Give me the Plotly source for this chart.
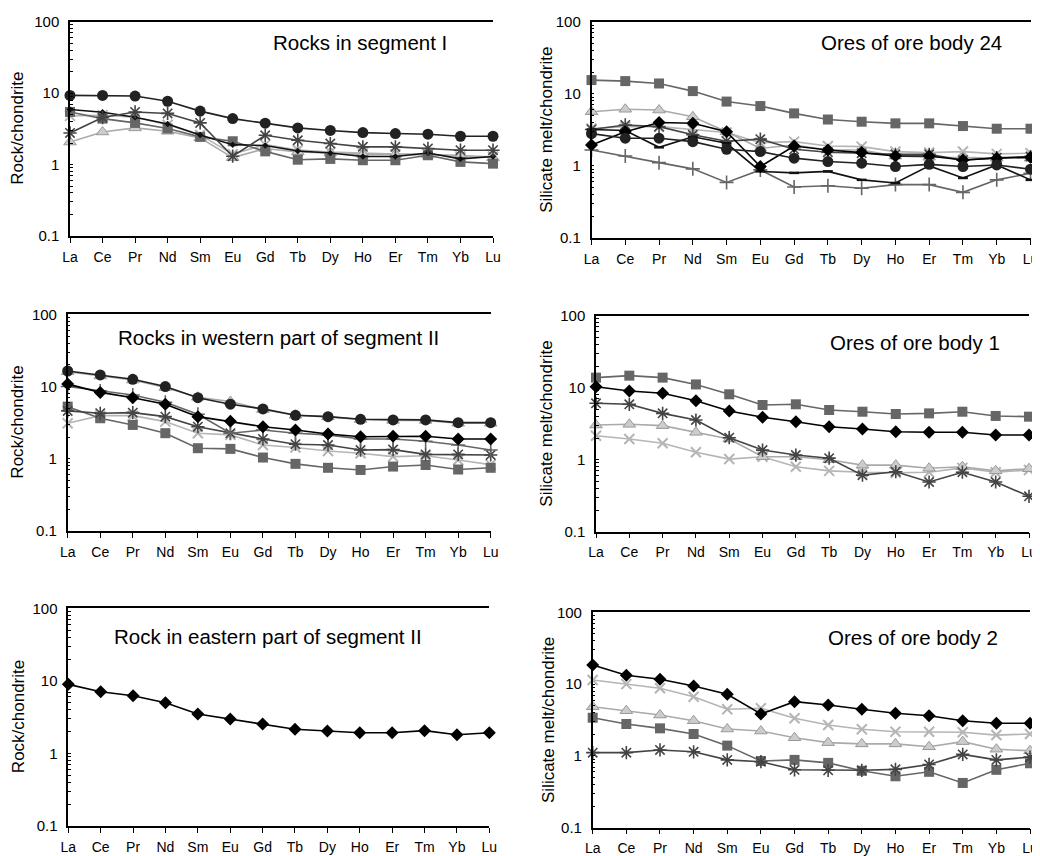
import plotly.graph_objects as go

# The page body has an 8 px margin; figure pixel = page pixel - OFF
OFF = 8
W, H = 1040 - OFF, 856 - OFF

ELEMENTS = ["La", "Ce", "Pr", "Nd", "Sm", "Eu", "Gd", "Tb", "Dy", "Ho", "Er", "Tm", "Yb", "Lu"]
# log-axis ticks: labelled decades plus unlabelled 2..9 subdivisions
Y_TICKS = [m * d for d in (0.1, 1, 10) for m in range(1, 10)] + [100]
Y_TICK_TEXT = [{0.1: "0.1", 1: "1", 10: "10", 100: "100"}.get(round(v, 6), "") for v in Y_TICKS]

# Panel 1: Rocks in segment I
s1_xcross = [4.8, 4.9, 4.6, 3.6, 2.6, 1.4, 1.9, 1.6, 1.5, 1.45, 1.4, 1.4, 1.3, 1.3]
s1_triangle = [2.07, 2.86, 3.26, 2.93, 2.36, 1.25, 1.68, 1.5, 1.46, 1.39, 1.39, 1.38, 1.35, 1.25]
s1_square = [5.45, 4.4, 3.83, 3.2, 2.44, 2.12, 1.53, 1.17, 1.2, 1.15, 1.15, 1.35, 1.09, 1.03]
s1_diamond = [5.9, 5.4, 4.6, 3.7, 2.6, 1.9, 1.85, 1.55, 1.45, 1.3, 1.3, 1.45, 1.2, 1.3]
s1_asterisk = [2.77, 4.55, 5.45, 5.2, 3.83, 1.31, 2.57, 2.19, 1.97, 1.77, 1.77, 1.68, 1.59, 1.59]
s1_circle = [9.3, 9.3, 9.1, 7.7, 5.6, 4.4, 3.8, 3.26, 3.0, 2.8, 2.72, 2.66, 2.49, 2.49]

# Panel 2: Ores of ore body 24
o24_plus = [1.66, 1.37, 1.11, 0.91, 0.59, 0.88, 0.51, 0.53, 0.49, 0.55, 0.55, 0.43, 0.64, 0.79]
o24_xcross = [3.3, 3.5, 3.5, 3.2, 2.9, 2.1, 2.17, 1.89, 1.85, 1.58, 1.53, 1.58, 1.47, 1.5]
o24_triangle = [5.65, 6.1, 5.95, 4.8, 2.98, 1.75, 1.95, 1.66, 1.66, 1.37, 1.32, 1.3, 1.28, 1.28]
o24_square = [15.5, 15.0, 13.9, 10.9, 7.8, 6.76, 5.35, 4.4, 4.1, 3.89, 3.89, 3.57, 3.28, 3.28]
o24_asterisk = [3.2, 3.7, 3.5, 2.7, 2.2, 2.35, 1.7, 1.55, 1.5, 1.45, 1.45, 1.2, 1.3, 1.35]
o24_dash = [3.2, 3.1, 1.81, 2.54, 2.06, 0.84, 0.8, 0.84, 0.64, 0.58, 1.0, 0.68, 1.03, 0.64]
o24_diamond = [1.95, 2.98, 4.0, 3.9, 2.98, 0.98, 1.89, 1.66, 1.53, 1.37, 1.37, 1.21, 1.28, 1.32]
o24_circle = [2.8, 2.42, 2.42, 2.17, 1.7, 1.58, 1.28, 1.15, 1.09, 0.98, 1.05, 0.98, 1.03, 0.9]

# Panel 3: Rocks in western part of segment II
w_xcross = [3.1, 3.95, 3.95, 3.27, 2.26, 2.14, 1.55, 1.43, 1.28, 1.19, 1.07, 1.1, 0.96, 0.83]
w_triangle = [16.0, 14.0, 12.3, 9.7, 7.1, 6.2, 4.8, 4.0, 3.8, 3.5, 3.4, 3.4, 3.1, 3.1]
w_square = [5.27, 3.64, 2.94, 2.26, 1.4, 1.37, 1.04, 0.85, 0.75, 0.7, 0.78, 0.82, 0.71, 0.75]
w_asterisk = [4.6, 4.27, 4.35, 3.83, 2.78, 2.26, 1.88, 1.59, 1.55, 1.32, 1.34, 1.15, 1.15, 1.13]
w_plus = [10.0, 8.7, 7.65, 6.06, 4.14, 2.26, 2.5, 2.26, 2.14, 1.88, 1.88, 1.75, 1.55, 1.32]
w_diamond = [10.8, 8.3, 7.0, 5.7, 3.83, 3.3, 2.78, 2.5, 2.2, 2.02, 2.05, 2.05, 1.88, 1.88]
w_circle = [16.4, 14.5, 12.6, 10.0, 7.0, 5.7, 4.9, 4.0, 3.83, 3.52, 3.45, 3.45, 3.16, 3.16]

# Panel 4: Ores of ore body 1
o1_xcross = [2.15, 1.94, 1.69, 1.27, 1.02, 1.1, 0.8, 0.7, 0.67, 0.66, 0.67, 0.77, 0.67, 0.72]
o1_triangle = [3.03, 3.1, 2.97, 2.4, 1.94, 1.1, 1.1, 1.0, 0.84, 0.84, 0.76, 0.8, 0.7, 0.75]
o1_asterisk = [6.07, 5.88, 4.4, 3.56, 2.02, 1.36, 1.16, 1.05, 0.61, 0.68, 0.49, 0.67, 0.49, 0.31]
o1_square = [13.8, 14.7, 13.8, 11.1, 8.1, 5.75, 5.88, 4.9, 4.64, 4.31, 4.4, 4.64, 4.05, 3.96]
o1_diamond = [10.3, 9.0, 8.36, 6.6, 4.74, 3.88, 3.37, 2.87, 2.67, 2.45, 2.4, 2.4, 2.2, 2.2]

# Panel 5: Rock in eastern part of segment II
e_diamond = [8.95, 7.08, 6.23, 4.99, 3.49, 2.98, 2.54, 2.15, 2.04, 1.93, 1.93, 2.06, 1.81, 1.93]

# Panel 6: Ores of ore body 2
o2_xcross = [11.4, 10.0, 8.74, 6.68, 4.46, 4.6, 3.34, 2.69, 2.35, 2.17, 2.17, 2.13, 1.95, 2.02]
o2_triangle = [4.84, 4.26, 3.71, 3.09, 2.37, 2.22, 1.79, 1.53, 1.47, 1.47, 1.34, 1.58, 1.24, 1.18]
o2_square = [3.4, 2.78, 2.42, 2.02, 1.39, 0.85, 0.88, 0.8, 0.62, 0.52, 0.6, 0.42, 0.64, 0.79]
o2_asterisk = [1.11, 1.11, 1.21, 1.14, 0.88, 0.83, 0.64, 0.63, 0.63, 0.65, 0.76, 1.05, 0.88, 0.96]
o2_diamond = [18.5, 13.3, 11.7, 9.4, 7.2, 3.84, 5.69, 5.12, 4.46, 3.92, 3.63, 3.09, 2.85, 2.85]

TITLES = ["Rocks in segment I", "Ores of ore body 24",
          "Rocks in western part of segment II", "Ores of ore body 1",
          "Rock in eastern part of segment II", "Ores of ore body 2"]
YLABELS = ["Rock/chondrite", "Silicate melt/chondrite"] * 3

PANELS = [
    [("xcross", s1_xcross), ("triangle", s1_triangle), ("square", s1_square),
     ("smalldiamond", s1_diamond), ("asterisk", s1_asterisk), ("circle", s1_circle)],
    [("plus", o24_plus), ("xcross", o24_xcross), ("triangle", o24_triangle),
     ("square", o24_square), ("asterisk", o24_asterisk), ("dash", o24_dash),
     ("diamond", o24_diamond), ("circle", o24_circle)],
    [("xcross", w_xcross), ("triangle", w_triangle), ("square", w_square),
     ("asterisk", w_asterisk), ("plus", w_plus), ("diamond", w_diamond), ("circle", w_circle)],
    [("xcross", o1_xcross), ("triangle", o1_triangle), ("asterisk", o1_asterisk),
     ("square", o1_square), ("diamond", o1_diamond)],
    [("diamond", e_diamond)],
    [("xcross", o2_xcross), ("triangle", o2_triangle), ("square", o2_square),
     ("asterisk", o2_asterisk), ("diamond", o2_diamond)],
]

# page-pixel boxes: (left, right, top, bottom)
BOXES = [
    (70, 493, 21.7, 236),
    (591.5, 1030.5, 21.7, 238),
    (67.7, 490.7, 314.3, 531),
    (596, 1029, 315.7, 531.7),
    (68.3, 489.3, 608.3, 826),
    (592.7, 1030, 612.3, 827.7),
]
# title text (left px, center y px), page pixels
TITLE_POS = [(271, 42), (819, 43), (116, 337), (828, 342), (112, 636), (826, 637)]
YLABEL_X = [18, 547, 18, 547, 18, 548]

STYLES = {
    "circle": dict(line=dict(color="#222222", width=1.6),
                   marker=dict(symbol="circle", size=11, color="#222222")),
    "diamond": dict(line=dict(color="#000000", width=1.6),
                    marker=dict(symbol="diamond", size=10, color="#000000")),
    "smalldiamond": dict(line=dict(color="#111111", width=1.6),
                         marker=dict(symbol="diamond", size=5, color="#111111")),
    "square": dict(line=dict(color="#666666", width=1.6),
                   marker=dict(symbol="square", size=10, color="#666666")),
    "triangle": dict(line=dict(color="#aaaaaa", width=1.6),
                     marker=dict(symbol="triangle-up", size=11, color="#cccccc",
                                 line=dict(color="#999999", width=1))),
    "xcross": dict(line=dict(color="#b5b5b5", width=1.6),
                   marker=dict(symbol="x-thin-open", size=10, color="#b5b5b5",
                               line=dict(color="#b5b5b5", width=2))),
    "asterisk": dict(line=dict(color="#444444", width=1.6),
                     marker=dict(symbol="asterisk-open", size=11, color="#444444",
                                 line=dict(color="#444444", width=1.6))),
    "plus": dict(line=dict(color="#666666", width=1.6),
                 marker=dict(symbol="cross-thin-open", size=10, color="#666666",
                             line=dict(color="#666666", width=1.6))),
    "dash": dict(line=dict(color="#111111", width=1.6),
                 marker=dict(symbol="line-ew-open", size=7, color="#111111",
                             line=dict(color="#111111", width=2.5))),
}

FONT = "Liberation Sans, Arial, sans-serif"


def fx(px):
    return (px - OFF) / W


def fy(py):
    return 1 - (py - OFF) / H


fig = go.Figure()
layout = dict(template="none", width=W, height=H, margin=dict(l=0, r=0, t=0, b=0, pad=0),
              autosize=False,
              paper_bgcolor="white", plot_bgcolor="white", showlegend=False,
              font=dict(family=FONT, color="#000000"))
annotations = []

for i, (series, box) in enumerate(zip(PANELS, BOXES)):
    n = i + 1
    xa = "xaxis" if n == 1 else f"xaxis{n}"
    ya = "yaxis" if n == 1 else f"yaxis{n}"
    xref = "x" if n == 1 else f"x{n}"
    yref = "y" if n == 1 else f"y{n}"
    l, r, t, b = box
    layout[xa] = dict(
        domain=[fx(l), fx(r)], anchor=yref, type="category",
        categoryorder="array", categoryarray=ELEMENTS,
        range=[0, len(ELEMENTS) - 1], showgrid=False, zeroline=False,
        automargin=False,
        showline=True, linecolor="#000000", linewidth=1.5, mirror=True,
        ticks="outside", ticklen=5, tickwidth=1, tickcolor="#000000",
        tickfont=dict(size=14, family=FONT, color="#000000"),
        ticklabelstandoff=2,
    )
    layout[ya] = dict(
        domain=[fy(b), fy(t)], anchor=xref, type="log",
        range=[-1, 2], showgrid=False, zeroline=False,
        automargin=False,
        showline=True, linecolor="#000000", linewidth=1.5, mirror=False,
        tickmode="array", tickvals=Y_TICKS, ticktext=Y_TICK_TEXT,
        ticks="inside", ticklen=3, tickwidth=1, tickcolor="#000000",
        tickfont=dict(size=15, family=FONT, color="#000000"),
        ticklabelstandoff=6,
    )
    # right border of the frame (plain line, no ticks)
    ra = f"yaxis{n + 6}"
    layout[ra] = dict(
        domain=[fy(b), fy(t)], anchor=xref, overlaying=yref, side="right",
        type="log", range=[-1, 2], showgrid=False, zeroline=False, automargin=False,
        showline=True, linecolor="#000000", linewidth=1.5, ticks="", showticklabels=False,
    )
    for kind, vals in series:
        st = STYLES[kind]
        fig.add_trace(go.Scatter(
            x=ELEMENTS, y=vals, mode="lines+markers",
            line=st["line"], marker=st["marker"], cliponaxis=False,
            xaxis=xref, yaxis=yref, hoverinfo="x+y",
        ))
    tx, ty = TITLE_POS[i]
    annotations.append(dict(
        text=TITLES[i], x=fx(tx), y=fy(ty), xref="paper", yref="paper",
        xanchor="left", yanchor="middle", showarrow=False,
        font=dict(size=20.5, family=FONT, color="#000000"),
    ))
    annotations.append(dict(
        text=YLABELS[i], x=fx(YLABEL_X[i]), y=fy((t + b) / 2),
        xref="paper", yref="paper", xanchor="center", yanchor="middle",
        textangle=-90, showarrow=False,
        font=dict(size=17, family=FONT, color="#000000"),
    ))

layout["annotations"] = annotations
fig.update_layout(**layout)
fig.write_html("out.html")
